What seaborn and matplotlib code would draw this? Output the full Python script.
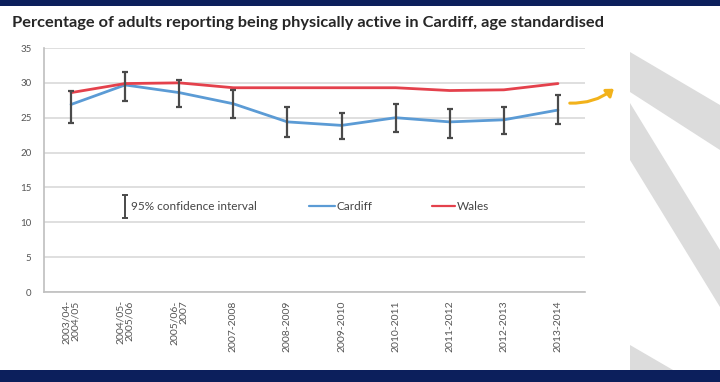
import numpy as np
import pandas as pd
import matplotlib
matplotlib.use("Agg")
import matplotlib.pyplot as plt
import seaborn as sns
from matplotlib.patches import Polygon, Rectangle, FancyArrowPatch

# Survey periods and age-standardised percentages
periods = ["2003/04-\n2004/05", "2004/05-\n2005/06", "2005/06-\n2007", "2007-2008",
           "2008-2009", "2009-2010", "2010-2011", "2011-2012", "2012-2013", "2013-2014"]
cardiff = [26.9, 29.7, 28.6, 27.0, 24.4, 23.9, 25.0, 24.4, 24.7, 26.1]
cardiff_upper = [28.9, 31.6, 30.4, 29.0, 26.6, 25.7, 27.0, 26.3, 26.6, 28.3]
cardiff_lower = [24.3, 27.4, 26.6, 24.9, 22.3, 22.0, 23.0, 22.1, 22.6, 24.1]
wales = [28.6, 29.9, 30.0, 29.3, 29.3, 29.3, 29.3, 28.9, 29.0, 29.9]
y_ticks = [0, 5, 10, 15, 20, 25, 30, 35]

sns.set_style("white")
plt.rcParams["font.family"] = ["Lato", "DejaVu Sans"]

W, H = 720, 382
fig = plt.figure(figsize=(W / 100, H / 100), dpi=100)
fig.patch.set_facecolor("white")

ax = fig.add_axes([44 / W, 1 - 292 / H, (585 - 44) / W, (292 - 48) / H])

idx = np.arange(len(periods))
df = pd.DataFrame({
    "pos": np.concatenate([idx, idx]),
    "value": cardiff + wales,
    "area": ["Cardiff"] * len(idx) + ["Wales"] * len(idx),
})

blue = "#5b9bd5"
red = "#e4414c"
sns.lineplot(data=df, x="pos", y="value", hue="area",
             palette={"Cardiff": blue, "Wales": red},
             linewidth=2.0, legend=False, ax=ax, zorder=3)

c = np.array(cardiff)
err = np.vstack([c - np.array(cardiff_lower), np.array(cardiff_upper) - c])
ax.errorbar(idx, c, yerr=err, fmt="none", ecolor="#4a4a4a",
            elinewidth=1.6, capsize=2.5, capthick=1.6, zorder=4)

ax.set_xlim(-0.5, len(periods) - 0.5)
ax.set_ylim(0, 35)
ax.set_yticks(y_ticks)
ax.set_xticks(idx)
ax.set_xticklabels(periods, rotation=90, fontsize=7.5, color="#555555",
                   linespacing=1.05, va="top", ha="center", ma="right")
ax.tick_params(axis="y", labelsize=7, labelcolor="#555555", length=3,
               color="#bfbfbf", pad=6)
ax.tick_params(axis="x", length=0, pad=6)
ax.set_xlabel("")
ax.set_ylabel("")
ax.grid(axis="y", color="#d9d9d9", linewidth=1.2)
ax.set_axisbelow(True)
for side in ["top", "right"]:
    ax.spines[side].set_visible(False)
for side in ["left", "bottom"]:
    ax.spines[side].set_color("#bfbfbf")
    ax.spines[side].set_linewidth(1.2)

# Legend row drawn inside the plot area
ax.errorbar([0.150], [0.350], yerr=[[0.047], [0.047]], fmt="none",
            ecolor="#4a4a4a", elinewidth=1.4, capsize=2.5, capthick=1.4,
            transform=ax.transAxes, clip_on=False)
ax.text(0.160, 0.352, "95% confidence interval", transform=ax.transAxes,
        fontsize=8.5, color="#444444", va="center", ha="left")
ax.plot([0.490, 0.538], [0.352, 0.352], color=blue, linewidth=1.6,
        transform=ax.transAxes)
ax.text(0.541, 0.352, "Cardiff", transform=ax.transAxes,
        fontsize=8.5, color="#444444", va="center", ha="left")
ax.plot([0.718, 0.760], [0.352, 0.352], color=red, linewidth=1.6,
        transform=ax.transAxes)
ax.text(0.763, 0.352, "Wales", transform=ax.transAxes,
        fontsize=8.5, color="#444444", va="center", ha="left")

fig.text(12 / W, 1 - 23 / H,
         "Percentage of adults reporting being physically active in Cardiff, age standardised",
         fontsize=11.8, fontweight="bold", color="#262626", va="center", ha="left")


def fx(px):
    return px / W


def fy(py):
    return 1 - py / H


# Navy bands at top and bottom
fig.patches.append(Rectangle((0, fy(6)), 1, 6 / H, transform=fig.transFigure,
                             facecolor="#0c1f5c", edgecolor="none"))
fig.patches.append(Rectangle((0, 0), 1, fy(370), transform=fig.transFigure,
                             facecolor="#0c1f5c", edgecolor="none", zorder=5))

# Light grey diagonal stripes on the right
stripes = [
    [(630, 52), (720, 105), (720, 150), (630, 92)],
    [(630, 103), (720, 250), (720, 307), (630, 160)],
    [(630, 345), (673, 370), (630, 370)],
]
for pts in stripes:
    fig.patches.append(Polygon([(fx(x), fy(y)) for x, y in pts], closed=True,
                               transform=fig.transFigure,
                               facecolor="#dcdcdc", edgecolor="none"))

# Yellow trend arrow
arrow = FancyArrowPatch((fx(567), fy(103)), (fx(616), fy(87)),
                        transform=fig.transFigure,
                        connectionstyle="arc3,rad=0.2",
                        arrowstyle="-|>,head_length=4,head_width=3",
                        color="#f2b21b", linewidth=2.2)
fig.patches.append(arrow)

fig.savefig("out.png", dpi=100)
